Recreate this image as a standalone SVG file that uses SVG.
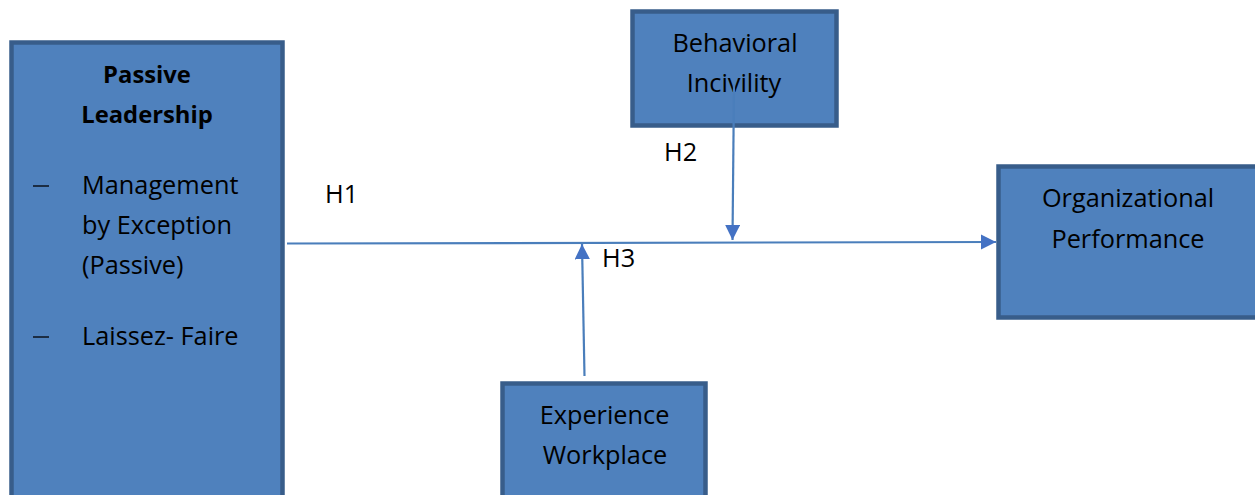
<svg xmlns="http://www.w3.org/2000/svg" width="1255" height="495" viewBox="0 0 1255 495">
  <style>
    .box { fill: #4f81bd; stroke: #385d8a; stroke-width: 4.5; }
    .t { font-family: "Open Sans", "Liberation Sans", sans-serif; font-size: 25.3px; fill: #000; }
    .c { text-anchor: middle; }
    .b { font-weight: bold; font-size: 23.8px; }
    .link { stroke: #4a7ebb; stroke-width: 2.2; fill: none; }
  </style>
  <defs>
    <marker id="arrow" viewBox="0 0 10 10" refX="10" refY="5" markerWidth="7" markerHeight="7" markerUnits="strokeWidth" orient="auto">
      <path d="M0,0 L10,5 L0,10 Z" fill="#4472c4"/>
    </marker>
  </defs>

  <rect width="1255" height="495" fill="#fff"/>

  <g id="passive-leadership">
    <rect class="box" x="11.5" y="42.5" width="271" height="470"/>
    <text class="t c b" x="147" y="83">Passive</text>
    <text class="t c b" x="147" y="123">Leadership</text>
    <line x1="33" y1="186" x2="49" y2="186" stroke="#000" stroke-width="1.3"/>
    <text class="t" x="82" y="194">Management</text>
    <text class="t" x="82" y="234">by Exception</text>
    <text class="t" x="82" y="274">(Passive)</text>
    <line x1="33" y1="337" x2="49" y2="337" stroke="#000" stroke-width="1.3"/>
    <text class="t" x="82" y="345">Laissez- Faire</text>
  </g>

  <g id="behavioral-incivility">
    <rect class="box" x="632.5" y="11.5" width="204" height="114"/>
    <text class="t c" x="735" y="52">Behavioral</text>
    <text class="t c" x="734" y="92">Incivility</text>
  </g>

  <g id="organizational-performance">
    <rect class="box" x="998.5" y="166.5" width="270" height="151"/>
    <text class="t c" x="1128" y="207">Organizational</text>
    <text class="t c" x="1128" y="248">Performance</text>
  </g>

  <g id="experience-workplace">
    <rect class="box" x="502.5" y="383.5" width="203" height="130"/>
    <text class="t c" x="604.5" y="424">Experience</text>
    <text class="t c" x="605" y="464">Workplace</text>
  </g>

  <g id="connectors">
    <line class="link" x1="287" y1="243.5" x2="996" y2="242" marker-end="url(#arrow)"/>
    <line class="link" x1="734" y1="84" x2="732.5" y2="240" marker-end="url(#arrow)"/>
    <line class="link" x1="584.5" y1="376" x2="582" y2="244" marker-end="url(#arrow)"/>
  </g>

  <g id="labels">
    <text class="t" x="325" y="203">H1</text>
    <text class="t" x="664" y="161">H2</text>
    <text class="t" x="602" y="267">H3</text>
  </g>
</svg>
